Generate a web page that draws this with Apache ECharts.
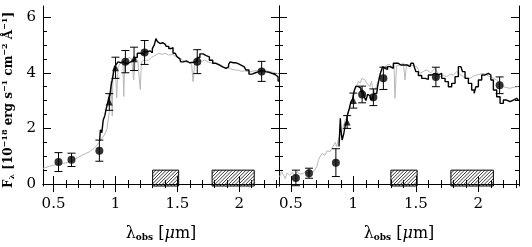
<!DOCTYPE html>
<html><head><meta charset="utf-8">
<script src="https://cdn.jsdelivr.net/npm/echarts@6/dist/echarts.min.js"></script>
<style>html,body{margin:0;padding:0;background:#fff}#c{width:532px;height:247px}</style>
</head><body><div id="c"></div>
<script>
// ---- tick values ----
const xTicks = [0.5, 1, 1.5, 2];
const xMinor = [0.5,0.6,0.7,0.8,0.9,1.0,1.1,1.2,1.3,1.4,1.5,1.6,1.7,1.8,1.9,2.0,2.1,2.2,2.3];
const yTicks = [0, 2, 4, 6];
const yMinor = [0,0.5,1,1.5,2,2.5,3,3.5,4,4.5,5,5.5,6];
const xRangeL = [0.415, 2.32];
const xRangeR = [0.405, 2.325];
const yRange = [-0.07, 6.4];

// ---- filter bands (hatched boxes) ----
const bands = [[1.30, 1.51], [1.78, 2.12]];
const bandTop = 0.5;

// ---- left panel ----
const leftModel = [[0.872,1.55],[0.885,1.95],[0.895,1.85],[0.907,2.30],[0.92,2.45],[0.93,2.7],[0.942,2.90],[0.95,3.1],[0.96,3.20],[0.97,3.55],[0.982,3.80],[0.99,4.05],[1.0,4.22],[1.013,4.30],[1.027,4.39],[1.045,4.36],[1.067,4.39],[1.085,4.33],[1.10,4.36],[1.12,4.42],[1.147,4.46],[1.165,4.55],[1.187,4.70],[1.213,4.67],[1.24,4.75],[1.267,4.79],[1.288,4.72],[1.307,4.87],[1.32,5.0],[1.333,5.23],[1.345,5.12],[1.36,5.05],[1.38,5.08],[1.40,5.03],[1.42,4.95],[1.44,4.87],[1.455,4.90],[1.474,4.70],[1.49,4.68],[1.506,4.57],[1.52,4.50],[1.533,4.39],[1.56,4.43],[1.585,4.36],[1.613,4.38],[1.653,4.39],[1.67,4.55],[1.693,4.68],[1.72,4.62],[1.746,4.57],[1.77,4.45],[1.80,4.34],[1.825,4.28],[1.852,4.21],[1.879,4.16],[1.906,4.21],[1.92,4.30],[1.932,4.39],[1.95,4.36],[1.986,4.34],[2.01,4.28],[2.04,4.21],[2.065,4.10],[2.09,3.95],[2.115,4.00],[2.145,4.04],[2.17,4.08],[2.198,4.04],[2.225,4.02],[2.25,3.98],[2.28,3.92],[2.305,3.86],[2.32,3.70]];
const leftObs = [[0.415,0.56],[0.44,0.60],[0.47,0.64],[0.5,0.68],[0.53,0.70],[0.57,0.74],[0.6,0.76],[0.63,0.80],[0.66,0.86],[0.68,0.92],[0.70,0.96],[0.73,1.04],[0.76,1.10],[0.79,1.16],[0.82,1.26],[0.84,1.34],[0.86,1.45],[0.87,1.52],[0.89,1.64],[0.91,1.76],[0.93,1.95],[0.95,2.6],[0.96,3.2],[0.965,3.7],[0.974,2.45],[0.98,4.0],[0.99,4.25],[1.0,4.1],[1.01,3.1],[1.02,4.2],[1.04,4.35],[1.06,4.4],[1.067,3.15],[1.075,4.45],[1.09,4.5],[1.11,4.55],[1.13,4.5],[1.147,3.75],[1.16,4.5],[1.18,4.45],[1.20,3.4],[1.21,4.4],[1.23,4.45],[1.25,4.45],[1.267,4.46],[1.29,4.55],[1.31,4.6],[1.33,4.65],[1.35,4.70],[1.38,4.66],[1.40,4.70],[1.43,4.64],[1.46,4.66],[1.48,4.6],[1.50,4.57],[1.53,4.5],[1.56,4.39],[1.59,4.37],[1.615,4.3],[1.626,3.68],[1.64,4.35],[1.67,4.43],[1.70,4.42],[1.72,4.46],[1.75,4.38],[1.78,4.34],[1.80,4.34],[1.84,4.26],[1.87,4.2],[1.906,4.18],[1.94,4.12],[1.97,4.10],[1.99,4.09],[2.02,4.05],[2.04,4.07],[2.08,4.03],[2.11,4.06],[2.14,4.08],[2.17,4.1],[2.2,4.09],[2.24,4.05],[2.27,4.02],[2.3,3.98],[2.32,3.96]];
const leftCircles = [[0.54,0.79,0.34],[0.645,0.87,0.24],[0.87,1.2,0.38],[1.08,4.4,0.4],[1.235,4.73,0.43],[1.66,4.4,0.43],[2.18,4.05,0.36]];
const leftTriangles = [[0.95,2.95,0.3],[1.0,4.18,0.38],[1.15,4.5,0.42]];

// ---- right panel ----
const rightModel = [[0.885,1.35],[0.893,1.34],[0.898,2.36],[0.905,1.9],[0.915,1.58],[0.93,1.80],[0.94,2.1],[0.947,2.20],[0.96,2.5],[0.973,2.70],[0.987,2.95],[1.0,3.05],[1.013,3.35],[1.027,3.52],[1.04,3.50],[1.053,3.45],[1.067,3.30],[1.08,3.38],[1.093,3.14],[1.107,3.0],[1.12,3.22],[1.133,3.18],[1.147,3.02],[1.16,3.10],[1.173,3.26],[1.187,3.26],[1.20,3.50],[1.213,3.80],[1.227,4.04],[1.24,4.22],[1.253,4.16],[1.267,4.12],[1.28,4.22],[1.307,4.16],[1.333,4.34],[1.347,4.40],[1.36,4.34],[1.373,4.28],[1.387,4.22],[1.40,4.28],[1.427,4.28],[1.453,4.22],[1.467,4.34],[1.48,4.34],[1.493,4.22],[1.507,4.04],[1.533,3.90],[1.56,3.80],[1.587,3.76],[1.613,3.92],[1.64,3.98],[1.667,3.92],[1.693,3.98],[1.72,3.80],[1.747,3.68],[1.773,3.50],[1.80,3.62],[1.827,3.86],[1.853,4.22],[1.867,4.28],[1.88,4.04],[1.907,3.80],[1.933,3.62],[1.96,3.38],[1.973,3.26],[1.987,3.50],[2.013,3.74],[2.04,3.92],[2.067,3.98],[2.093,3.92],[2.107,3.74],[2.133,3.38],[2.16,3.14],[2.187,2.90],[2.213,3.02],[2.24,2.96],[2.267,3.02],[2.293,3.08],[2.32,3.02]];
const rightObs = [[0.41,0.26],[0.425,0.45],[0.44,0.38],[0.455,0.2],[0.47,0.4],[0.49,0.32],[0.51,0.42],[0.53,0.3],[0.55,0.44],[0.57,0.36],[0.6,0.38],[0.62,0.46],[0.64,0.40],[0.66,0.48],[0.68,0.44],[0.695,0.5],[0.707,0.62],[0.72,0.85],[0.733,0.98],[0.75,1.1],[0.773,1.04],[0.79,1.2],[0.813,1.16],[0.83,1.3],[0.84,1.34],[0.855,1.5],[0.867,1.34],[0.88,1.6],[0.893,1.76],[0.905,1.9],[0.92,2.06],[0.935,2.3],[0.947,2.42],[0.96,2.6],[0.973,2.78],[0.985,3.0],[1.0,3.14],[1.013,3.4],[1.027,3.50],[1.04,3.7],[1.053,3.62],[1.07,3.8],[1.093,3.74],[1.11,3.6],[1.133,3.50],[1.145,3.7],[1.16,3.26],[1.175,3.4],[1.187,3.38],[1.20,3.7],[1.213,3.98],[1.23,4.1],[1.253,4.22],[1.275,4.3],[1.293,4.28],[1.31,4.2],[1.325,4.3],[1.333,3.08],[1.345,4.25],[1.36,4.22],[1.38,4.3],[1.40,4.34],[1.413,3.74],[1.425,4.3],[1.453,4.28],[1.48,4.25],[1.507,4.22],[1.533,3.98],[1.56,4.05],[1.587,4.10],[1.62,4.0],[1.653,4.16],[1.675,4.0],[1.693,3.86],[1.72,3.9],[1.747,3.86],[1.775,3.95],[1.80,3.92],[1.827,4.04],[1.85,3.95],[1.88,3.86],[1.905,3.82],[1.933,3.80],[1.96,3.88],[1.987,3.92],[2.013,3.95],[2.04,3.98],[2.065,3.92],[2.093,3.86],[2.12,3.8],[2.147,3.74],[2.175,3.62],[2.2,3.50],[2.225,3.47],[2.253,3.44],[2.28,3.48],[2.32,3.50]];
const rightCircles = [[0.54,0.22,0.28],[0.645,0.39,0.18],[0.86,0.77,0.5],[1.07,3.22,0.3],[1.16,3.12,0.3],[1.24,3.8,0.4],[1.66,3.85,0.35],[2.17,3.55,0.3]];
const rightTriangles = [[0.95,2.23,0.23],[1.0,3.0,0.27]];

const FONT = 'DejaVu Serif';
const BLACK = '#000';

function xAxisDef(grid, pos, range, vals, len, line, labels, name) {
  const a = {
    type: 'value', gridIndex: grid, position: pos, min: range[0], max: range[1],
    axisLine: { show: line, lineStyle: { color: BLACK, width: 1 } },
    axisTick: { show: true, inside: true, length: len, customValues: vals, lineStyle: { color: BLACK, width: 1 } },
    axisLabel: labels ? { show: true, customValues: xTicks, margin: 11, color: BLACK, fontFamily: FONT, fontSize: 15 } : { show: false },
    splitLine: { show: false }
  };
  if (name) {
    a.name = '{l|λ}{s|obs}{l| [}{i|μ}{l|m]}';
    a.nameLocation = 'middle';
    a.nameGap = 40;
    a.nameTextStyle = { rich: {
      l: { fontFamily: FONT, fontSize: 16, color: BLACK },
      i: { fontFamily: FONT, fontSize: 16, fontStyle: 'italic', color: BLACK },
      s: { fontFamily: FONT, fontSize: 9, fontWeight: 'bold', color: BLACK, verticalAlign: 'bottom' }
    } };
  }
  return a;
}
function yAxisDef(grid, pos, vals, len, line, labels, name) {
  const a = {
    type: 'value', gridIndex: grid, position: pos, min: yRange[0], max: yRange[1],
    axisLine: { show: line, lineStyle: { color: BLACK, width: 1 } },
    axisTick: { show: true, inside: true, length: len, customValues: vals, lineStyle: { color: BLACK, width: 1 } },
    axisLabel: labels ? { show: true, customValues: yTicks, margin: 7, color: BLACK, fontFamily: FONT, fontSize: 15 } : { show: false },
    splitLine: { show: false }
  };
  if (name) {
    a.name = '{b|F}{sb|λ}{b| [10}{sp|−18}{b| erg s}{sp|−1}{b| cm}{sp|−2}{b| Å}{sp|−1}{b|]}';
    a.nameLocation = 'middle';
    a.nameRotate = 90;
    a.nameGap = 27;
    a.nameTextStyle = { padding: [0, 8, 0, 0], rich: {
      b: { fontFamily: FONT, fontSize: 12, fontWeight: 'bold', color: BLACK, lineHeight: 15 },
      sb: { fontFamily: FONT, fontSize: 8, fontWeight: 'bold', color: BLACK, verticalAlign: 'bottom' },
      sp: { fontFamily: FONT, fontSize: 8, fontWeight: 'bold', color: BLACK, verticalAlign: 'top' }
    } };
  }
  return a;
}

const xAxes = [
  xAxisDef(0, 'bottom', xRangeL, xTicks, 8, true, true, true),
  xAxisDef(0, 'bottom', xRangeL, xMinor, 4, false, false, false),
  xAxisDef(0, 'top', xRangeL, xTicks, 8, true, false, false),
  xAxisDef(0, 'top', xRangeL, xMinor, 4, false, false, false),
  xAxisDef(1, 'bottom', xRangeR, xTicks, 8, true, true, true),
  xAxisDef(1, 'bottom', xRangeR, xMinor, 4, false, false, false),
  xAxisDef(1, 'top', xRangeR, xTicks, 8, true, false, false),
  xAxisDef(1, 'top', xRangeR, xMinor, 4, false, false, false)
];
const yAxes = [
  yAxisDef(0, 'left', yTicks, 8, true, true, true),
  yAxisDef(0, 'left', yMinor, 4, false, false, false),
  yAxisDef(0, 'right', yTicks, 8, true, false, false),
  yAxisDef(0, 'right', yMinor, 4, false, false, false),
  yAxisDef(1, 'left', yTicks, 8, true, false, false),
  yAxisDef(1, 'left', yMinor, 4, false, false, false),
  yAxisDef(1, 'right', yTicks, 8, true, false, false),
  yAxisDef(1, 'right', yMinor, 4, false, false, false)
];

function errorRender(params, api) {
  const x = api.value(0), y = api.value(1), e = api.value(2);
  const lo = api.coord([x, y - e]), hi = api.coord([x, y + e]);
  const c = 4;
  const st = { stroke: BLACK, lineWidth: 1 };
  return { type: 'group', children: [
    { type: 'line', shape: { x1: lo[0], y1: lo[1], x2: hi[0], y2: hi[1] }, style: st },
    { type: 'line', shape: { x1: lo[0] - c, y1: lo[1], x2: lo[0] + c, y2: lo[1] }, style: st },
    { type: 'line', shape: { x1: hi[0] - c, y1: hi[1], x2: hi[0] + c, y2: hi[1] }, style: st }
  ] };
}
function bandRender(params, api) {
  const tl = api.coord([api.value(0), bandTop]);
  const br = api.coord([api.value(1), yRange[0]]);
  const x0 = tl[0], y0 = tl[1], w = br[0] - tl[0], h = br[1] - tl[1];
  const children = [];
  const step = 3.4;
  for (let t = -h; t < w; t += step) {
    const u0 = Math.max(0, -t), u1 = Math.min(h, w - t);
    if (u1 <= u0) continue;
    children.push({ type: 'line', shape: { x1: x0 + t + u0, y1: y0 + h - u0, x2: x0 + t + u1, y2: y0 + h - u1 },
      style: { stroke: '#222', lineWidth: 0.9 } });
  }
  children.push({ type: 'rect', shape: { x: x0, y: y0, width: w, height: h }, style: { fill: null, stroke: BLACK, lineWidth: 1 } });
  return { type: 'group', children };
}

function panelSeries(xi, yi, obs, model, circles, triangles) {
  return [
    { type: 'custom', xAxisIndex: xi, yAxisIndex: yi, data: bands, renderItem: bandRender, z: 1, silent: true },
    { type: 'line', xAxisIndex: xi, yAxisIndex: yi, data: obs, showSymbol: false, lineStyle: { color: '#b8b8b8', width: 1 }, z: 2 },
    { type: 'line', xAxisIndex: xi, yAxisIndex: yi, data: model, showSymbol: false, step: 'middle', lineStyle: { color: BLACK, width: 1.4 }, z: 3 },
    { type: 'custom', xAxisIndex: xi, yAxisIndex: yi, data: circles.concat(triangles), renderItem: errorRender, encode: { x: 0, y: 1 }, z: 4 },
    { type: 'scatter', xAxisIndex: xi, yAxisIndex: yi, data: circles.map(d => [d[0], d[1]]), symbol: 'circle', symbolSize: 8, itemStyle: { color: BLACK }, z: 5 },
    { type: 'scatter', xAxisIndex: xi, yAxisIndex: yi, data: triangles.map(d => [d[0], d[1]]), symbol: 'triangle', symbolSize: 7, itemStyle: { color: BLACK }, z: 5 }
  ];
}

const chart = echarts.init(document.getElementById('c'), null, { renderer: 'canvas' });
chart.setOption({
  animation: false,
  backgroundColor: '#fff',
  grid: [
    { left: 40, top: 6, width: 239, height: 180 },
    { left: 279, top: 6, width: 240, height: 180 }
  ],
  xAxis: xAxes,
  yAxis: yAxes,
  series: panelSeries(0, 0, leftObs, leftModel, leftCircles, leftTriangles)
    .concat(panelSeries(4, 4, rightObs, rightModel, rightCircles, rightTriangles))
});
</script></body></html>
